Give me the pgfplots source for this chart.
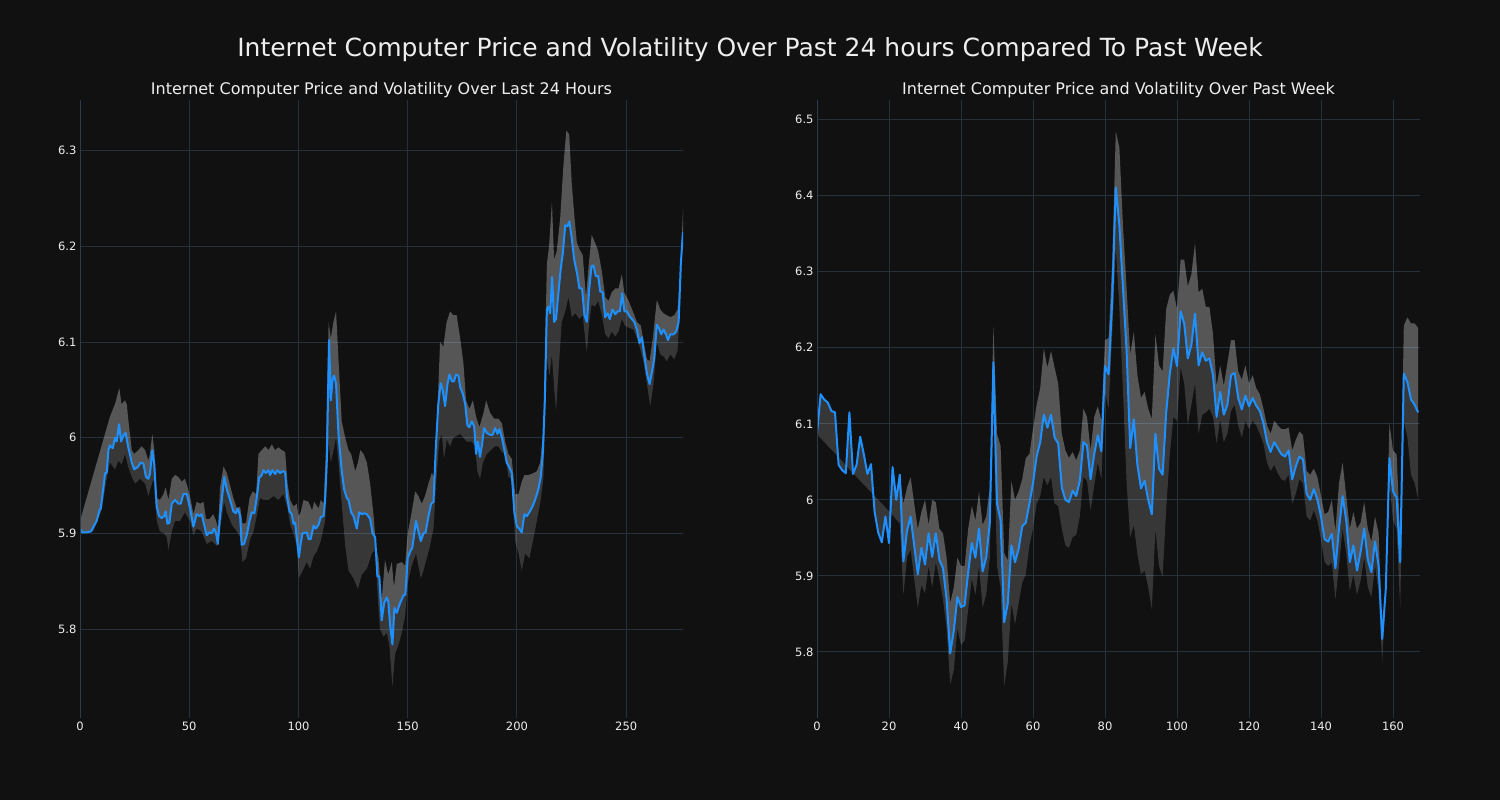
\documentclass[border=0pt]{standalone}
\usepackage{fontspec}
\setmainfont{DejaVu Sans}
\usepackage{xcolor}
\usepackage{pgfplots}
\pgfplotsset{compat=1.18}
\usepackage{pgfplotstable}
\usepgfplotslibrary{fillbetween}
\definecolor{bg}{HTML}{111111}
\definecolor{gridc}{HTML}{26313E}
\definecolor{spine}{HTML}{2C3A4A}
\definecolor{pline}{HTML}{1E90FF}
\definecolor{txt}{HTML}{EEEEEE}
\pagecolor{bg}

\pgfplotstableread{
x y
0 5.905
1 5.901
3 5.901
5 5.902
7.6 5.913
8.9 5.924
9.5 5.926
10.7 5.948
11.5 5.963
12.2 5.963
13 5.987
13.7 5.992
15 5.989
16 6.000
16.8 5.996
17.9 6.014
18.8 5.996
19.8 6.002
20.9 6.005
22 5.991
23.7 5.974
24.8 5.967
26.3 5.969
27.8 5.974
29 5.973
30.2 5.959
31.3 5.957
32 5.962
33.1 5.987
34 5.972
35.1 5.928
36.2 5.918
37.4 5.916
38.5 5.918
39.2 5.923
40 5.910
40.9 5.911
42 5.931
43.5 5.935
45 5.931
46.1 5.931
47.3 5.941
48.9 5.941
50.4 5.926
51.9 5.907
53.4 5.920
54.7 5.918
55.7 5.920
56.8 5.909
58 5.898
59.2 5.901
60.3 5.900
61.4 5.905
62.3 5.900
63.1 5.889
64.1 5.918
64.9 5.935
66 5.959
67.2 5.946
68.7 5.935
70.2 5.923
71.3 5.921
72.2 5.926
73.3 5.918
74 5.888
75.1 5.889
76.3 5.898
77.6 5.913
78.6 5.922
79.8 5.921
80.9 5.937
82 5.958
83.2 5.961
84 5.966
85 5.963
86.3 5.966
87 5.961
88.1 5.966
89.3 5.962
90.4 5.966
91.6 5.963
92.8 5.965
93.9 5.964
94.7 5.939
95.9 5.923
96.9 5.920
97.7 5.910
98.5 5.911
99.2 5.896
100.2 5.875
101 5.889
101.8 5.900
103.8 5.901
104.6 5.894
105.6 5.894
106.9 5.908
107.9 5.905
109.2 5.909
110.2 5.917
111.5 5.918
112.2 5.935
113 5.978
114 6.102
114.8 6.039
115.6 6.061
116.3 6.065
117.2 6.056
118.3 6.004
119.1 5.983
119.8 5.965
120.9 5.946
122.1 5.937
122.9 5.935
124.1 5.922
125.2 5.918
126.7 5.905
127.8 5.922
129 5.920
130.1 5.921
131.3 5.920
132.8 5.915
133.9 5.900
135.1 5.896
136.1 5.855
137 5.855
138.1 5.809
139.2 5.827
140.4 5.833
141.1 5.829
141.9 5.805
143 5.784
143.9 5.822
145 5.817
146.5 5.827
148 5.835
148.9 5.836
150 5.874
151.1 5.881
152.1 5.885
153.8 5.913
154.9 5.902
156 5.892
157.2 5.900
158.2 5.901
159.5 5.918
160.7 5.931
161.8 5.933
162.8 5.987
164 6.035
165.1 6.057
166 6.050
167.1 6.033
168.2 6.056
169.1 6.066
170.2 6.059
171.2 6.059
172.1 6.066
173.2 6.065
174 6.053
175.2 6.046
176.3 6.035
177.3 6.013
178.2 6.011
179.3 6.017
180.4 6.012
181.3 5.983
182.1 5.996
183.1 5.980
183.9 5.991
185 6.010
186.2 6.005
187.7 6.003
188.9 6.003
190 6.010
191.1 6.004
192 6.009
193.1 6.000
194.1 5.989
195.3 5.974
196.3 5.970
197.6 5.963
198.8 5.922
200 5.907
201 5.905
202.2 5.901
203.4 5.920
204.5 5.918
205.7 5.922
207.1 5.928
208.3 5.935
209.8 5.946
210.9 5.959
211.8 5.983
212.7 6.035
213.7 6.134
214.4 6.137
215.2 6.130
216.1 6.168
217 6.121
217.9 6.124
219 6.152
220.1 6.178
221 6.193
222.1 6.222
223.1 6.221
224 6.226
225.1 6.208
226.2 6.186
227.4 6.173
228.6 6.156
229.8 6.156
230.9 6.128
232 6.121
233.1 6.156
234.1 6.179
235 6.180
236.1 6.169
237.2 6.169
238.1 6.153
239.2 6.152
240.4 6.126
241.5 6.130
242.5 6.124
243.7 6.134
245 6.129
246 6.132
247.1 6.132
248.2 6.151
249.2 6.132
250.3 6.132
251.5 6.127
252.6 6.124
253.7 6.121
254.9 6.113
256.1 6.099
257.2 6.105
258.2 6.087
259.5 6.067
260.7 6.056
261.8 6.069
262.8 6.082
264 6.118
265.1 6.114
266 6.108
267.1 6.113
268.2 6.108
269.1 6.102
270.2 6.108
271.7 6.108
272.9 6.111
274 6.121
275 6.182
276 6.215
}\priceL

\pgfplotstableread{
x y
0 5.913
13.7 6.022
16 6.035
18 6.052
19 6.035
20.6 6.039
21.4 6.035
22.2 6.017
23.7 5.987
24.8 5.983
26.7 5.987
28.2 5.991
29.8 5.987
31.3 5.976
32 5.983
33.1 6.004
34 5.987
35.1 5.937
36.6 5.935
38.2 5.941
39.2 5.948
40.5 5.935
42 5.957
43.5 5.961
45 5.959
46.6 5.954
48 5.957
49.3 5.948
50.7 5.935
51.9 5.920
53.4 5.933
55 5.931
56.5 5.933
57.7 5.915
59.2 5.915
61 5.920
62.3 5.913
63.2 5.905
64.1 5.948
65.7 5.970
67.2 5.963
68.7 5.950
70.2 5.937
71.8 5.926
73.3 5.928
74.4 5.910
76 5.911
77.6 5.937
79.1 5.944
80.6 5.941
81.7 5.983
83.2 5.987
84.8 5.991
86.3 5.987
87.8 5.993
89.3 5.987
90.8 5.990
92.4 5.987
93.9 5.985
95 5.952
96.2 5.935
97.7 5.928
99.2 5.931
100 5.918
101 5.922
102.3 5.935
104.6 5.933
106.2 5.924
107.2 5.933
109.2 5.926
110.2 5.935
111.5 5.931
112.5 5.983
113.8 6.121
114.8 6.104
116 6.121
117.2 6.132
118.3 6.082
119.8 6.017
121.4 6.000
122.9 5.987
124.1 5.983
126 5.965
127.2 5.974
128.3 5.987
129.8 5.983
131.3 5.974
132.8 5.952
134.4 5.918
135.5 5.885
136.6 5.874
138.1 5.831
139.6 5.872
141.1 5.857
142.7 5.870
143.7 5.844
145 5.868
147.3 5.870
148.8 5.866
150 5.900
151.8 5.922
153.4 5.944
154.9 5.939
156.4 5.931
157.9 5.939
159.5 5.952
161 5.963
162.1 5.959
163.3 6.009
164.8 6.100
166.3 6.095
167.8 6.121
169.4 6.132
170.9 6.128
172.4 6.128
174 6.104
175.5 6.078
176.7 6.039
178.2 6.030
179.8 6.039
181.3 6.022
182.8 6.011
184.7 6.026
185.9 6.039
187.7 6.026
189.5 6.020
191.5 6.020
193.1 6.015
194.6 5.996
196.1 5.983
197.6 5.978
199.2 5.941
200.7 5.941
202.2 5.954
203.4 5.961
205.3 5.961
207.6 5.963
209.1 5.965
210.6 5.974
212.1 6.009
213.7 6.182
214.7 6.200
216 6.247
217 6.186
218.2 6.195
219.8 6.230
221.3 6.286
222.6 6.321
223.9 6.317
225.1 6.265
226.2 6.234
227.4 6.204
228.6 6.197
230.1 6.191
231.6 6.147
232.7 6.177
234.2 6.212
235.7 6.204
237.2 6.195
238.9 6.173
240.4 6.147
241.9 6.143
243.4 6.152
245 6.156
246.5 6.156
248 6.171
249.1 6.152
251.1 6.143
253.4 6.130
254.9 6.121
256.7 6.117
258 6.100
259.5 6.082
260.7 6.080
262.2 6.104
264 6.144
265.6 6.134
267.1 6.130
268.6 6.128
270.2 6.126
272 6.128
273.5 6.134
274.7 6.169
276 6.239
}\upperL

\pgfplotstableread{
x y
0 5.902
6.1 5.902
9.9 5.924
12.2 5.957
13.7 5.974
16 5.967
17.6 5.976
19.1 5.972
20.6 5.983
22 5.970
23.7 5.959
25.2 5.952
27.5 5.957
29.8 5.952
31.3 5.939
32.4 5.948
33.6 5.957
35.1 5.913
36.6 5.902
38.5 5.900
39.7 5.896
40.5 5.883
42 5.902
43.5 5.913
45.8 5.913
48 5.922
50.4 5.913
51.9 5.898
53.4 5.905
55.7 5.902
58 5.889
60.3 5.892
62.6 5.887
64.1 5.905
66 5.933
67.2 5.922
69.5 5.909
71.8 5.902
73.3 5.896
74.4 5.870
76 5.874
77.9 5.894
79.4 5.902
80.9 5.918
82.4 5.937
84 5.935
86.3 5.935
88.6 5.939
90.8 5.935
93.1 5.941
95 5.926
96.2 5.909
97.7 5.900
99.2 5.887
100.2 5.853
101.5 5.859
103.8 5.870
105.3 5.863
106.9 5.876
108.4 5.881
110.2 5.892
112.2 5.913
113.8 5.996
114.8 5.974
115.7 5.983
117.2 6.000
118.3 5.974
119.8 5.931
121.4 5.887
122.9 5.861
125.2 5.853
127.2 5.842
129 5.857
131.3 5.863
133.6 5.879
135.1 5.883
136.6 5.822
137.3 5.800
138.9 5.792
140.4 5.796
141.6 5.783
143 5.740
144.2 5.774
145.7 5.783
147.3 5.796
148.8 5.814
150 5.848
151.8 5.866
153.8 5.879
154.9 5.866
156 5.853
157.2 5.861
158.7 5.874
160.2 5.887
161.8 5.905
163 5.952
164.4 5.996
165.6 6.004
166.6 5.978
167.9 5.998
169.4 5.991
170.9 6.000
172.4 6.002
174 6.004
175.5 6.000
177 5.996
179.3 5.996
180.8 5.991
181.9 5.965
183.1 5.957
184.4 5.974
186.2 5.983
188 5.987
190 5.991
191.5 5.991
193.1 5.985
194.6 5.983
196.1 5.959
197.6 5.957
199.2 5.892
200.7 5.879
202.2 5.861
203.7 5.879
205.7 5.874
207.3 5.892
209.1 5.913
210.6 5.931
212.1 5.957
213.7 6.082
214.9 6.065
216 6.087
217 6.052
217.9 6.028
219 6.069
220.5 6.121
222.1 6.132
223.6 6.147
225.1 6.126
226.7 6.130
228.6 6.124
230.1 6.128
231.2 6.104
232 6.089
233.1 6.121
234.2 6.139
235.7 6.137
237.2 6.143
238.9 6.128
240.4 6.108
241.9 6.104
243.4 6.111
245 6.106
246.5 6.111
248 6.124
249.5 6.117
251.1 6.115
253.4 6.113
254.9 6.104
256.4 6.093
258 6.078
259.5 6.056
261 6.033
262.5 6.056
264 6.100
265.6 6.087
267.1 6.085
268.6 6.080
270.2 6.087
272 6.082
273.5 6.091
274.7 6.139
276 6.215
}\lowerL

\pgfplotstableread{
x p u l
0 6.087 6.087 6.086
1 6.139 6.139 6.081
2 6.132 6.132 6.076
3 6.128 6.128 6.071
4 6.117 6.117 6.066
5 6.115 6.115 6.061
6 6.046 6.046 6.056
7 6.039 6.039 6.051
8 6.035 6.035 6.045
9 6.115 6.115 6.040
10 6.034 6.034 6.035
11 6.046 6.046 6.030
12 6.083 6.083 6.025
13 6.060 6.060 6.020
14 6.034 6.034 6.015
15 6.047 6.047 6.010
16 5.984 5.984 6.005
17 5.957 5.957 6.000
18 5.944 5.944 5.995
19 5.978 5.978 5.990
20 5.943 5.943 5.985
21 6.043 6.043 5.980
22 6.000 6.000 5.974
23 6.033 6.033 5.969
24 5.919 5.995 5.875
25 5.959 6.016 5.924
26 5.978 6.030 5.935
27 5.940 5.995 5.896
28 5.902 5.962 5.858
29 5.937 5.984 5.888
30 5.915 6.000 5.877
31 5.956 5.967 5.913
32 5.925 6.000 5.885
33 5.956 5.997 5.918
34 5.921 5.962 5.896
35 5.910 5.956 5.869
36 5.869 5.924 5.831
37 5.798 5.864 5.757
38 5.828 5.885 5.776
39 5.872 5.924 5.831
40 5.859 5.913 5.809
41 5.861 5.913 5.815
42 5.905 5.962 5.856
43 5.943 5.992 5.896
44 5.924 5.973 5.875
45 5.962 6.011 5.913
46 5.906 5.967 5.858
47 5.924 5.978 5.875
48 5.970 6.016 5.924
49 6.181 6.229 6.120
50 5.995 6.087 5.913
51 5.973 6.071 5.885
52 5.839 5.930 5.755
53 5.864 5.920 5.787
54 5.940 6.025 5.864
55 5.918 6.000 5.836
56 5.935 6.011 5.864
57 5.965 6.027 5.891
58 5.970 6.055 5.902
59 5.995 6.060 5.940
60 6.022 6.093 5.962
61 6.057 6.125 5.995
62 6.076 6.147 6.005
63 6.112 6.199 6.030
64 6.095 6.174 6.019
65 6.112 6.196 6.030
66 6.082 6.174 5.995
67 6.074 6.153 5.992
68 6.016 6.087 5.962
69 6.000 6.065 5.940
70 5.997 6.055 5.937
71 6.012 6.063 5.951
72 6.005 6.052 5.954
73 6.025 6.065 5.978
74 6.076 6.120 6.030
75 6.071 6.109 6.025
76 6.027 6.065 5.986
77 6.060 6.109 6.019
78 6.085 6.123 6.049
79 6.064 6.104 6.027
80 6.176 6.210 6.142
81 6.165 6.213 6.120
82 6.262 6.311 6.218
83 6.411 6.485 6.333
84 6.360 6.463 6.251
85 6.278 6.360 6.142
86 6.196 6.278 6.022
87 6.068 6.191 5.951
88 6.106 6.221 5.967
89 6.046 6.164 5.929
90 6.015 6.134 5.902
91 6.025 6.142 5.907
92 6.000 6.120 5.885
93 5.981 6.106 5.856
94 6.087 6.218 5.962
95 6.041 6.177 5.913
96 6.033 6.169 5.899
97 6.115 6.251 5.989
98 6.166 6.270 6.060
99 6.199 6.275 6.109
100 6.176 6.251 6.104
101 6.248 6.316 6.174
102 6.232 6.316 6.153
103 6.186 6.281 6.098
104 6.204 6.297 6.125
105 6.245 6.338 6.153
106 6.177 6.273 6.087
107 6.194 6.278 6.112
108 6.183 6.254 6.115
109 6.186 6.254 6.120
110 6.164 6.218 6.109
111 6.109 6.150 6.074
112 6.142 6.177 6.106
113 6.112 6.150 6.076
114 6.125 6.180 6.087
115 6.164 6.210 6.117
116 6.167 6.210 6.125
117 6.134 6.169 6.098
118 6.119 6.158 6.082
119 6.137 6.177 6.104
120 6.123 6.153 6.093
121 6.134 6.164 6.104
122 6.124 6.147 6.098
123 6.117 6.139 6.087
124 6.101 6.120 6.074
125 6.076 6.098 6.049
126 6.063 6.087 6.038
127 6.076 6.104 6.046
128 6.068 6.098 6.035
129 6.060 6.093 6.027
130 6.057 6.093 6.025
131 6.065 6.095 6.033
132 6.027 6.065 5.995
133 6.044 6.079 6.008
134 6.057 6.090 6.027
135 6.053 6.085 6.022
136 6.008 6.038 5.978
137 6.000 6.033 5.973
138 6.014 6.041 5.986
139 6.000 6.030 5.973
140 5.978 6.005 5.948
141 5.948 5.981 5.918
142 5.945 5.984 5.913
143 5.955 6.000 5.918
144 5.910 5.959 5.869
145 5.962 6.022 5.913
146 6.005 6.049 5.962
147 5.973 6.005 5.929
148 5.918 5.962 5.880
149 5.940 5.984 5.902
150 5.907 5.962 5.875
151 5.932 5.970 5.894
152 5.962 5.997 5.924
153 5.921 5.962 5.885
154 5.905 5.945 5.872
155 5.945 5.978 5.913
156 5.913 5.956 5.880
157 5.817 5.820 5.787
158 5.883 5.885 5.880
159 6.055 6.101 6.022
160 6.011 6.065 5.973
161 6.003 6.060 5.962
162 5.918 5.951 5.858
163 6.166 6.229 6.104
164 6.155 6.240 6.082
165 6.132 6.232 6.033
166 6.125 6.232 6.022
167 6.115 6.226 6.000
}\dataR

\pgfplotsset{
  panel/.style={
    scale only axis, width=603pt, height=618pt,
    axis line style={draw=none},
    grid=major, major grid style={gridc, line width=1pt},
    major tick length=0pt,
    tick label style={font=\fontsize{11.5}{13}\selectfont, text=txt},
    /pgf/number format/assume math mode=true,
    enlargelimits=false,
    title style={font=\fontsize{16}{18}\selectfont, text=txt, yshift=-7pt},
  },
  lightband/.style={fill=white, fill opacity=0.29, draw=none},
  darkband/.style={fill=white, fill opacity=0.16, draw=none},
}

\begin{document}
\begin{tikzpicture}[x=1pt,y=1pt]
\path (0,0) rectangle (1500,800);
\node[text=txt, font=\fontsize{25}{28}\selectfont] at (750,750) {Internet Computer Price and Volatility Over Past 24 hours Compared To Past Week};

\begin{axis}[panel, at={(80pt,82pt)}, anchor=south west,
  xmin=0, xmax=276, ymin=5.707, ymax=6.353,
  xtick={0,50,100,150,200,250}, xticklabels={0,50,100,150,200,250},
  ytick={5.8,5.9,6.0,6.1,6.2,6.3}, yticklabels={5.8,5.9,6,6.1,6.2,6.3},
  title={Internet Computer Price and Volatility Over Last 24 Hours}]
\addplot[name path=uL, draw=none, forget plot] table[x=x,y=y] {\upperL};
\addplot[name path=lL, draw=none, forget plot] table[x=x,y=y] {\lowerL};
\addplot[name path=pL, draw=none, forget plot] table[x=x,y=y] {\priceL};
\addplot[lightband] fill between[of=uL and pL];
\addplot[darkband] fill between[of=pL and lL];
\addplot[pline, line width=2pt, line join=round] table[x=x,y=y] {\priceL};
\draw[spine, line width=1.2pt] (rel axis cs:0,0) -- (rel axis cs:0,1);
\end{axis}

\begin{axis}[panel, at={(817pt,82pt)}, anchor=south west,
  xmin=0, xmax=167.5, ymin=5.713, ymax=6.526,
  xtick={0,20,40,60,80,100,120,140,160}, xticklabels={0,20,40,60,80,100,120,140,160},
  ytick={5.8,5.9,6.0,6.1,6.2,6.3,6.4,6.5}, yticklabels={5.8,5.9,6,6.1,6.2,6.3,6.4,6.5},
  title={Internet Computer Price and Volatility Over Past Week}]
\addplot[name path=uR, draw=none, forget plot] table[x=x,y=u] {\dataR};
\addplot[name path=lR, draw=none, forget plot] table[x=x,y=l] {\dataR};
\addplot[name path=pR, draw=none, forget plot] table[x=x,y=p] {\dataR};
\addplot[lightband] fill between[of=uR and pR];
\addplot[darkband] fill between[of=pR and lR];
\addplot[pline, line width=2pt, line join=round] table[x=x,y=p] {\dataR};
\draw[spine, line width=1.2pt] (rel axis cs:0,0) -- (rel axis cs:0,1);
\end{axis}
\end{tikzpicture}
\end{document}
